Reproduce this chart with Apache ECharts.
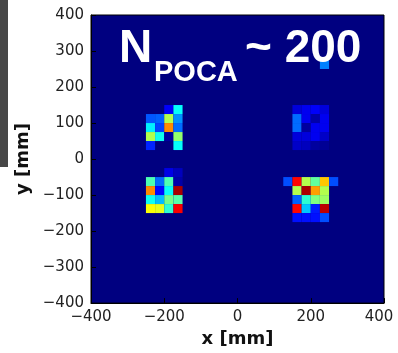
<!DOCTYPE html>
<html>
<head>
<meta charset="utf-8">
<script src="https://cdn.jsdelivr.net/npm/echarts@6.0.0/dist/echarts.min.js"></script>
<style>
  html, body { margin: 0; padding: 0; background: #ffffff; }
  #chart { width: 398px; height: 353px; }
</style>
</head>
<body>
<div id="chart"></div>
<script>
// Histogram of POCA points, 25 mm bins; values are normalised bin contents.
const binSize = 25;
const tickValues = [-400, -200, 0, 200, 400];

// Each cluster: [left edge x, top edge y] in mm, then rows of bins from top to bottom.
const upperLeftOrigin = [-250, 150];
const upperLeftBins = [
  [0.00, 0.00, 0.12, 0.38],
  [0.21, 0.22, 0.55, 0.27],
  [0.36, 0.19, 0.74, 0.23],
  [0.55, 0.39, 0.03, 0.52],
  [0.16, 0.00, 0.00, 0.38]
];

const lowerLeftOrigin = [-250, -25];
const lowerLeftBins = [
  [0.00, 0.00, 0.10, 0.06],
  [0.45, 0.23, 0.45, 0.04],
  [0.74, 0.13, 0.38, 0.96],
  [0.39, 0.31, 0.49, 0.46],
  [0.62, 0.60, 0.42, 0.88]
];

const upperRightOrigin = [150, 150];
const upperRightBins = [
  [0.09, 0.11, 0.12, 0.09],
  [0.23, 0.11, 0.04, 0.11],
  [0.23, 0.03, 0.11, 0.11],
  [0.09, 0.09, 0.11, 0.07],
  [0.07, 0.06, 0.03, 0.02]
];

const lowerRightOrigin = [125, -50];
const lowerRightBins = [
  [0.20, 0.87, 0.55, 0.47, 0.68, 0.20],
  [0.00, 0.55, 0.96, 0.72, 0.55, 0.00],
  [0.00, 0.22, 0.42, 0.50, 0.53, 0.00],
  [0.00, 0.87, 0.32, 0.15, 0.94, 0.00],
  [0.00, 0.14, 0.14, 0.14, 0.20, 0.00]
];

const strayOrigin = [225, 275];
const strayBins = [[0.25]];

// jet colour map stops
const jetColors = ['#000080', '#0000ff', '#0080ff', '#00ffff', '#80ff80',
                   '#ffff00', '#ff8000', '#ff0000', '#800000'];

function binsToCells(origin, rows) {
  const cells = [];
  rows.forEach((row, r) => {
    row.forEach((v, c) => {
      if (v > 0) {
        cells.push([origin[0] + c * binSize, origin[1] - (r + 1) * binSize, v]);
      }
    });
  });
  return cells;
}

const cells = [].concat(
  binsToCells(upperLeftOrigin, upperLeftBins),
  binsToCells(lowerLeftOrigin, lowerLeftBins),
  binsToCells(upperRightOrigin, upperRightBins),
  binsToCells(lowerRightOrigin, lowerRightBins),
  binsToCells(strayOrigin, strayBins)
);

const tickFont = 'DejaVu Sans';
const fmtTick = v => (v < 0 ? '\u2212' + Math.abs(v) : String(v));

const chart = echarts.init(document.getElementById('chart'), null, { renderer: 'canvas' });

chart.setOption({
  animation: false,
  backgroundColor: '#ffffff',
  grid: {
    left: 91, top: 15, width: 293, height: 292,
    show: true,
    backgroundColor: '#000080',
    borderColor: '#000000',
    borderWidth: 1
  },
  xAxis: {
    type: 'value',
    min: tickValues[0], max: tickValues[tickValues.length - 1], interval: 200,
    name: 'x [mm]',
    nameLocation: 'middle',
    nameGap: 21,
    nameTextStyle: { fontFamily: tickFont, fontWeight: 'bold', fontSize: 18, color: '#111' },
    axisLine: { show: true, onZero: false, lineStyle: { color: '#000', width: 1 } },
    axisTick: { show: true, inside: true, length: 5, lineStyle: { color: '#000' } },
    splitLine: { show: false },
    axisLabel: {
      fontFamily: tickFont, fontSize: 15, color: '#222', margin: 7,
      formatter: v => (v === 400 ? '{r|400}' : fmtTick(v)),
      rich: { r: { fontFamily: tickFont, fontSize: 15, color: '#222', padding: [0, 10, 0, 0] } }
    }
  },
  yAxis: {
    type: 'value',
    min: tickValues[0], max: tickValues[tickValues.length - 1], interval: 100,
    name: 'y [mm]',
    nameLocation: 'middle',
    nameGap: 58,
    nameTextStyle: { fontFamily: tickFont, fontWeight: 'bold', fontSize: 18, color: '#111' },
    axisLine: { show: true, onZero: false, lineStyle: { color: '#000', width: 1 } },
    axisTick: { show: true, inside: true, length: 5, lineStyle: { color: '#000' } },
    splitLine: { show: false },
    axisLabel: {
      fontFamily: tickFont, fontSize: 15, color: '#222', margin: 7,
      formatter: fmtTick
    }
  },
  visualMap: {
    show: false,
    type: 'continuous',
    seriesIndex: 0,
    dimension: 2,
    min: 0, max: 1,
    inRange: { color: jetColors }
  },
  series: [{
    type: 'custom',
    clip: true,
    data: cells,
    encode: { x: 0, y: 1 },
    renderItem: function (params, api) {
      const x0 = api.value(0);
      const y0 = api.value(1);
      const p0 = api.coord([x0, y0 + binSize]);
      const p1 = api.coord([x0 + binSize, y0]);
      return {
        type: 'rect',
        shape: { x: p0[0], y: p0[1], width: p1[0] - p0[0], height: p1[1] - p0[1] },
        style: { fill: api.visual('color') }
      };
    }
  }],
  graphic: [
    { type: 'rect', left: 0, top: 0, shape: { width: 8, height: 167 }, style: { fill: '#474747' }, z: 10 },
    { type: 'text', x: 119, y: 49, z: 20,
      style: { text: 'N', fill: '#ffffff', font: 'bold 46px "Liberation Sans"', verticalAlign: 'middle', align: 'left' } },
    { type: 'text', x: 154, y: 73, z: 20,
      style: { text: 'POCA', fill: '#ffffff', font: 'bold 29px "Liberation Sans"', verticalAlign: 'middle', align: 'left' } },
    { type: 'text', x: 245, y: 49, z: 20,
      style: { text: '~ 200', fill: '#ffffff', font: 'bold 46px "Liberation Sans"', verticalAlign: 'middle', align: 'left' } }
  ]
});
</script>
</body>
</html>
